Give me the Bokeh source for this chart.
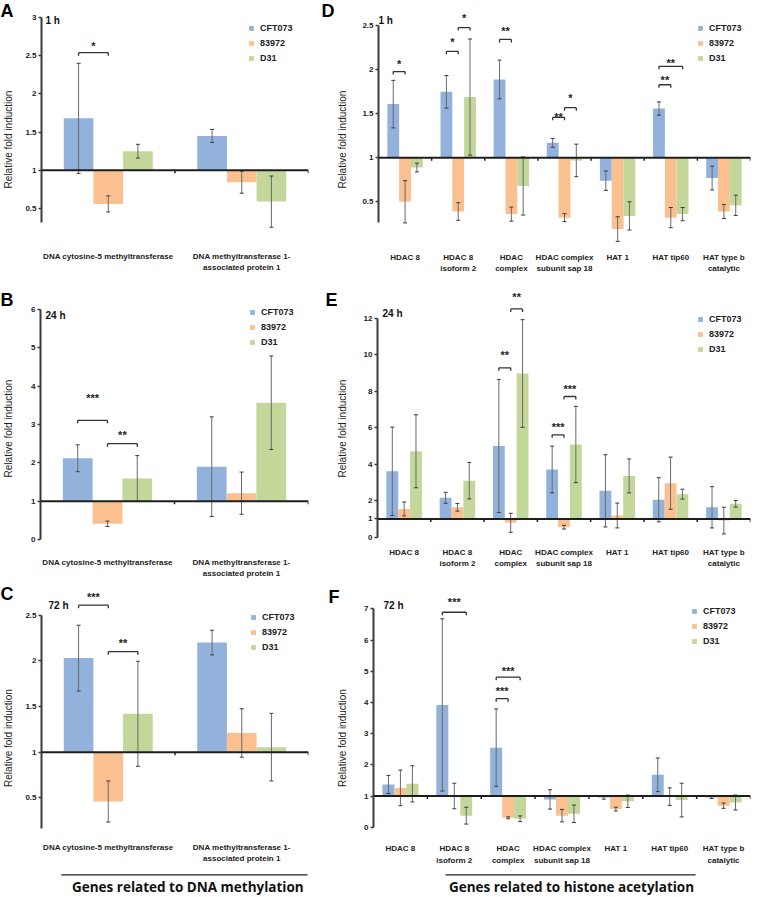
import math
from bokeh.plotting import figure
from bokeh.layouts import row, column
from bokeh.models import (Range1d, FixedTicker, Legend, LegendItem, Label, Span)
from bokeh.embed import file_html
from bokeh.resources import INLINE
from bokeh.core.properties import value

FONT = "Liberation Sans"
STRAINS = ["CFT073", "83972", "D31"]
COLORS = ["#92B2DB", "#FAC090", "#C4D79B"]

DNA_GENES = ["DNA cytosine-5 methyltransferase",
             "DNA methyltransferase 1-\nassociated protein 1"]
HIST_GENES = ["HDAC 8", "HDAC 8\nisoform 2", "HDAC\ncomplex",
              "HDAC complex\nsubunit sap 18", "HAT 1", "HAT tip60",
              "HAT type b\ncatalytic"]

# ---- Panel A : DNA methylation, 1 h ----
a_cft073 = [1.68, 1.45]
a_cft073_err = [0.72, 0.085]
a_83972 = [0.56, 0.845]
a_83972_err = [0.105, 0.145]
a_d31 = [1.25, 0.59]
a_d31_err = [0.09, 0.335]
# (category, strain1, strain2, bracket level, star level, label)
a_sig = [(0, 0, 1, 2.54, 2.67, "*")]

# ---- Panel B : DNA methylation, 24 h ----
b_cft073 = [2.12, 1.90]
b_cft073_err = [0.35, 1.30]
b_83972 = [0.41, 1.21]
b_83972_err = [0.07, 0.55]
b_d31 = [1.59, 3.57]
b_d31_err = [0.60, 1.22]
b_sig = [(0, 0, 1, 3.11, 3.76, "***"), (0, 1, 2, 2.50, 2.80, "**")]

# ---- Panel C : DNA methylation, 72 h ----
c_cft073 = [2.03, 2.20]
c_cft073_err = [0.36, 0.135]
c_83972 = [0.46, 1.21]
c_83972_err = [0.225, 0.265]
c_d31 = [1.42, 1.055]
c_d31_err = [0.575, 0.37]
c_sig = [(0, 0, 1, 2.61, 2.73, "***"), (0, 1, 2, 2.10, 2.23, "**")]

# ---- Panel D : histone acetylation, 1 h ----
d_cft073 = [1.61, 1.75, 1.89, 1.17, 0.74, 1.56, 0.77]
d_cft073_err = [0.27, 0.185, 0.22, 0.05, 0.11, 0.075, 0.135]
d_83972 = [0.50, 0.39, 0.36, 0.32, 0.19, 0.32, 0.39]
d_83972_err = [0.24, 0.10, 0.08, 0.045, 0.14, 0.115, 0.08]
d_d31 = [0.89, 1.69, 0.68, 0.97, 0.34, 0.36, 0.46]
d_d31_err = [0.05, 0.66, 0.33, 0.185, 0.16, 0.075, 0.115]
d_sig = [(0, 0, 1, 1.98, 2.10, "*"), (1, 0, 1, 2.21, 2.35, "*"),
         (1, 1, 2, 2.48, 2.62, "*"), (2, 0, 1, 2.345, 2.48, "**"),
         (3, 0, 1, 1.46, 1.50, "**"), (3, 1, 2, 1.57, 1.71, "*"),
         (5, 0, 1, 1.83, 1.92, "**"), (5, 0, 2, 2.04, 2.11, "**")]

# ---- Panel E : histone acetylation, 24 h ----
e_cft073 = [3.61, 2.16, 5.00, 3.71, 2.54, 2.05, 1.64]
e_cft073_err = [2.42, 0.30, 3.65, 1.28, 1.98, 1.21, 1.13]
e_83972 = [1.55, 1.64, 0.79, 0.55, 1.19, 2.96, 0.91]
e_83972_err = [0.38, 0.21, 0.52, 0.10, 0.68, 1.43, 0.73]
e_d31 = [4.71, 3.10, 8.97, 5.08, 3.36, 2.36, 1.83]
e_d31_err = [2.00, 1.00, 2.95, 2.09, 0.93, 0.27, 0.18]
e_sig = [(2, 0, 1, 9.28, 10.14, "**"), (2, 1, 2, 12.51, 13.34, "**"),
         (3, 0, 1, 5.61, 6.21, "***"), (3, 1, 2, 7.71, 8.31, "***")]

# ---- Panel F : histone acetylation, 72 h ----
f_cft073 = [1.37, 3.92, 2.55, 0.89, 0.95, 1.68, 0.95]
f_cft073_err = [0.29, 2.76, 1.24, 0.31, 0.05, 0.54, 0.03]
f_83972 = [1.26, 1.00, 0.30, 0.37, 0.58, 0.98, 0.69]
f_83972_err = [0.57, 0.41, 0.03, 0.20, 0.06, 0.28, 0.085]
f_d31 = [1.39, 0.37, 0.27, 0.43, 0.83, 0.87, 0.79]
f_d31_err = [0.58, 0.27, 0.09, 0.28, 0.20, 0.54, 0.24]
f_sig = [(1, 0, 2, 6.89, 7.32, "***"), (2, 0, 1, 4.12, 4.47, "***"),
         (2, 0, 2, 4.81, 5.11, "***")]

ticks_a = [0.5, 1, 1.5, 2, 2.5, 3]
ticks_b = [0, 1, 2, 3, 4, 5, 6]
ticks_c = [0.5, 1, 1.5, 2, 2.5]
ticks_d = [0.5, 1, 1.5, 2, 2.5]
ticks_e = [0, 1, 2, 4, 6, 8, 10, 12]
ticks_f = [0, 1, 2, 3, 4, 5, 6, 7]

BW = 1 / 4.5  # bar width in category units (Excel gap width 150 %)


def fmt_key(t):
    return int(t) if float(t).is_integer() else t


def ypx(sp, local):
    """data y of a pixel row (canvas coordinates of the panel)"""
    return sp["v0"] - (local - sp["y0"]) / sp["ppu"]


def xpx(sp, n, local):
    """data x of a pixel column (canvas coordinates of the panel)"""
    return (local - sp["bl"]) / (sp["w"] - sp["bl"] - sp["br"]) * n


def make_panel(genes, means, errs, sig, ticks, sp):
    n = len(genes)
    ppu = sp["ppu"]
    y_top = ypx(sp, 0)
    y_bot = ypx(sp, sp["h"])
    p = figure(width=sp["w"], height=sp["h"], x_range=Range1d(0, n),
               y_range=Range1d(y_bot, y_top), output_backend="svg",
               toolbar_location=None, x_axis_location=None,
               min_border_left=sp["bl"], min_border_right=sp["br"],
               min_border_top=0, min_border_bottom=0)
    p.outline_line_color = None
    p.grid.visible = False
    p.background_fill_color = "white"
    p.border_fill_color = "white"

    rends = []
    for k in range(3):
        xs = [i + 0.5 + (k - 1) * BW for i in range(n)]
        r = p.vbar(x=xs, width=BW, bottom=1, top=means[k],
                   fill_color=COLORS[k], line_color=None)
        rends.append(r)
    for k in range(3):
        xs = [i + 0.5 + (k - 1) * BW for i in range(n)]
        lo = [m - e for m, e in zip(means[k], errs[k])]
        hi = [m + e for m, e in zip(means[k], errs[k])]
        p.segment(x0=xs, y0=lo, x1=xs, y1=hi, line_color="#6a6a6a",
                  line_width=1)
        p.scatter(x=xs + xs, y=lo + hi, marker="dash", size=4,
                  line_color="#3a3a3a", line_width=1)

    # category boundary ticks on the baseline
    bnd = list(range(1, n + 1))
    tick_len = 3 / ppu
    p.segment(x0=bnd, y0=[1] * n, x1=bnd, y1=[1 - tick_len] * n,
              line_color="#222222", line_width=1.5)
    p.add_layout(Span(location=1, dimension="width", line_color="#1e1e1e",
                      line_width=2))

    # significance brackets
    bx0, bx1, by, ex, ey0, ey1, tx, ty, tl = [], [], [], [], [], [], [], [], []
    for (c, s1, s2, yb, ys, lab) in sig:
        x1 = c + 0.5 + (s1 - 1) * BW
        x2 = c + 0.5 + (s2 - 1) * BW
        bx0.append(x1); bx1.append(x2); by.append(yb)
        ex += [x1, x2]; ey0 += [yb, yb]; ey1 += [yb - tick_len, yb - tick_len]
        tx.append((x1 + x2) / 2); ty.append(ys); tl.append(lab)
    p.segment(x0=bx0, y0=by, x1=bx1, y1=by, line_color="#333333",
              line_width=1.3)
    p.segment(x0=ex, y0=ey0, x1=ex, y1=ey1, line_color="#333333",
              line_width=1.3)
    p.text(x=tx, y=ty, text=tl, text_font=value(FONT), text_font_size="11px",
           text_font_style="bold", text_align="center",
           text_baseline="middle", y_offset=3, text_color="#222222")

    # category labels under the panel
    p.text(x=[i + 0.5 for i in range(n)], y=[ypx(sp, sp["lab"])] * n,
           text=genes, text_font=value(FONT), text_font_size="8px",
           text_font_style="bold", text_align="center", text_baseline="top",
           text_line_height=1.25, text_color="#222222")

    # y axis
    yax = p.yaxis[0]
    yax.ticker = FixedTicker(ticks=ticks)
    yax.bounds = sp["bounds"]
    yax.major_label_overrides = {fmt_key(t): f"{t:g}" for t in ticks}
    yax.axis_line_width = 2
    yax.axis_line_color = "#3a3a3a"
    yax.major_tick_out = 3
    yax.major_tick_in = 0
    yax.major_tick_line_color = "#3a3a3a"
    yax.major_tick_line_width = 1.5
    yax.minor_tick_line_color = None
    yax.major_label_standoff = 2
    yax.major_label_text_font = FONT
    yax.major_label_text_font_size = "8px"
    yax.major_label_text_font_style = "bold"
    yax.major_label_text_color = "#222222"
    yax.axis_label = "Relative fold induction"
    yax.axis_label_standoff = sp["als"]
    yax.axis_label_text_font = FONT
    yax.axis_label_text_font_size = "10px"
    yax.axis_label_text_font_style = "normal"
    yax.axis_label_text_color = "#222222"

    legend = Legend(items=[LegendItem(label=STRAINS[k], renderers=[rends[k]])
                           for k in range(3)],
                    location=(sp["lx"], sp["h"] - sp["lt"] - 41.5),
                    orientation="vertical", glyph_width=6, glyph_height=6,
                    label_height=10, label_standoff=6, spacing=5, padding=0,
                    margin=0, border_line_color=None,
                    background_fill_alpha=0, label_text_font=FONT,
                    label_text_font_size="9px", label_text_font_style="bold",
                    label_text_color="#222222")
    p.add_layout(legend)

    p.add_layout(Label(x=sp["tx"], y=sp["ty"], x_units="canvas",
                       y_units="canvas", text=sp["time"], text_align="left",
                       text_baseline="middle", text_font=FONT,
                       text_font_size="10px", text_font_style="bold",
                       text_color="#111111"))
    # panel letter, kept in a side panel so that it is not clipped
    p.add_layout(Label(x=sp["lx0"], y=sp["ly0"], x_units="canvas",
                       y_units="canvas", text=sp["letter"], text_align="left",
                       text_baseline="top", text_font=FONT,
                       text_font_size="18px", text_font_style="bold",
                       text_color="#000000"), sp["lside"])
    return p


LW, RW = 321, 439
H1, H2, H3 = 278, 300, 319

spA = dict(w=LW, h=H1, bl=38, br=13, v0=3, y0=17, ppu=76.4,
           bounds=(0.32, 3), lab=251.5, als=8, lx=207, lt=21.7,
           tx=45, ty=20, time="1 h", lx0=0, ly0=0, letter="A", lside="right")
spB = dict(w=LW, h=H2, bl=38, br=13, v0=1, y0=222.7, ppu=38.33,
           bounds=(0, 6), lab=279.2, als=14, lx=209, lt=27,
           tx=45, ty=37, time="24 h", lx0=0, ly0=11.5, letter="B",
           lside="right")
spC = dict(w=LW, h=H3, bl=38, br=13, v0=1, y0=173.67, ppu=91.33,
           bounds=(0.16, 2.5), lab=264.2, als=8, lx=209, lt=32,
           tx=48, ty=27, time="72 h", lx0=0, ly0=5.5, letter="C",
           lside="right")
spD = dict(w=RW, h=H1, bl=52, br=10, v0=1, y0=157.3, ppu=88,
           bounds=(0.27, 2.5), lab=252.5, als=11, lx=319, lt=21.7,
           tx=57, ty=20, time="1 h", lx0=0, ly0=0, letter="D", lside="left")
spE = dict(w=RW, h=H2, bl=52, br=10, v0=0, y0=258.7, ppu=18.25,
           bounds=(0, 12), lab=269.2, als=13, lx=320, lt=34.7,
           tx=61, ty=35, time="24 h", lx0=4, ly0=11.5, letter="E",
           lside="left")
spF = dict(w=RW, h=H3, bl=52, br=10, v0=0, y0=248.7, ppu=31.2,
           bounds=(0, 7), lab=265.8, als=13, lx=318, lt=26,
           tx=62, ty=27, time="72 h", lx0=7, ly0=8.5, letter="F",
           lside="left")

pA = make_panel(DNA_GENES, [a_cft073, a_83972, a_d31],
                [a_cft073_err, a_83972_err, a_d31_err], a_sig, ticks_a, spA)
pB = make_panel(DNA_GENES, [b_cft073, b_83972, b_d31],
                [b_cft073_err, b_83972_err, b_d31_err], b_sig, ticks_b, spB)
pC = make_panel(DNA_GENES, [c_cft073, c_83972, c_d31],
                [c_cft073_err, c_83972_err, c_d31_err], c_sig, ticks_c, spC)
pD = make_panel(HIST_GENES, [d_cft073, d_83972, d_d31],
                [d_cft073_err, d_83972_err, d_d31_err], d_sig, ticks_d, spD)
pE = make_panel(HIST_GENES, [e_cft073, e_83972, e_d31],
                [e_cft073_err, e_83972_err, e_d31_err], e_sig, ticks_e, spE)
pF = make_panel(HIST_GENES, [f_cft073, f_83972, f_d31],
                [f_cft073_err, f_83972_err, f_d31_err], f_sig, ticks_f, spF)

# group captions (rule + text) under the bottom panels, pixel placement
for p, sp, n, x0, x1, xc, title in [
        (pC, spC, 2, 58, 307, 186, "Genes related to DNA methylation"),
        (pF, spF, 7, 124, 374, 250, "Genes related to histone acetylation")]:
    yl = ypx(sp, 296.3)
    p.segment(x0=[xpx(sp, n, x0)], y0=[yl], x1=[xpx(sp, n, x1)], y1=[yl],
              line_color="#222222", line_width=1.3)
    p.text(x=[xpx(sp, n, xc)], y=[ypx(sp, 308)], text=[title],
           text_font=value("Open Sans"), text_font_size="13.5px",
           text_font_style="bold", text_align="center",
           text_baseline="middle", text_color="#111111")

layout = column(row(pA, pD), row(pB, pE), row(pC, pF))

with open("out.html", "w") as fh:
    fh.write(file_html(layout, INLINE))
